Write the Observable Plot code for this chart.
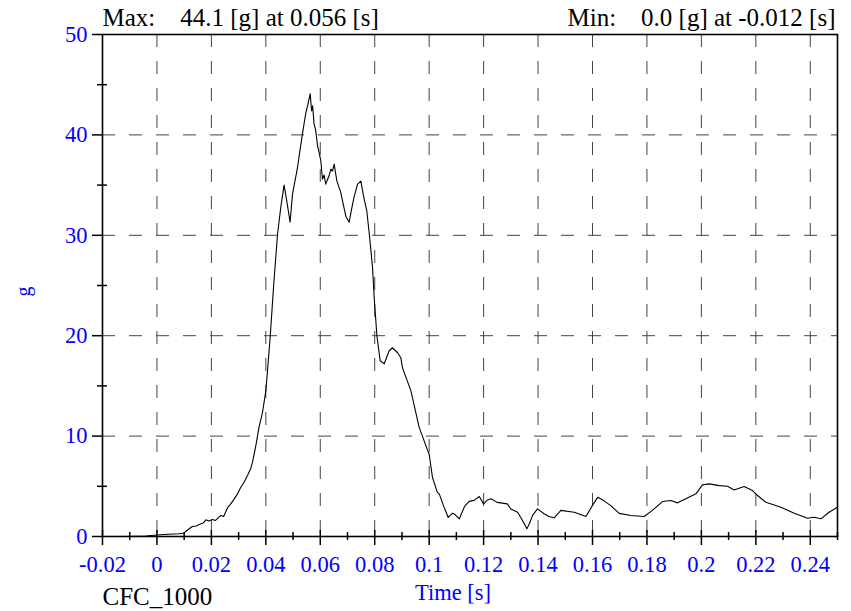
<!DOCTYPE html>
<html>
<head>
<meta charset="utf-8">
<script src="https://cdn.jsdelivr.net/npm/d3@7"></script>
<script src="https://cdn.jsdelivr.net/npm/@observablehq/plot@0.6"></script>
<style>
  html, body { margin: 0; padding: 0; background: #fff; }
  #chart { width: 851px; height: 611px; }
</style>
</head>
<body>
<div id="chart"></div>
<script>
// ---- data ----
const time = [
  -0.020, -0.015, -0.012, -0.008, -0.004, 0.000, 0.004, 0.008, 0.0098, 0.011,
  0.013, 0.0145, 0.0155, 0.017, 0.018, 0.019, 0.0204, 0.0215, 0.0225, 0.0235,
  0.0245, 0.026, 0.027, 0.0284, 0.0295, 0.0308, 0.032, 0.0333, 0.0345, 0.0351,
  0.0363, 0.0375, 0.0388, 0.040, 0.0415, 0.043, 0.0443, 0.0455, 0.0467, 0.0477,
  0.0489, 0.0498, 0.0516, 0.0535, 0.0547, 0.0555, 0.0563, 0.0568, 0.0572, 0.0577,
  0.0583, 0.059, 0.0596, 0.0602, 0.0608, 0.0614, 0.062, 0.0626, 0.0632, 0.0639,
  0.0645, 0.0651, 0.0661, 0.0675, 0.0685, 0.0694, 0.0706, 0.0715, 0.0724, 0.0737,
  0.0749, 0.0759, 0.0771, 0.0779, 0.0792, 0.0798, 0.0808, 0.0820, 0.0835, 0.0853,
  0.0865, 0.0884, 0.0896, 0.0902, 0.0933, 0.0963, 0.0994, 0.1000, 0.1012, 0.1030,
  0.1037, 0.1055, 0.1070, 0.1085, 0.1092, 0.1111, 0.1130, 0.1147, 0.1165, 0.1184,
  0.1200, 0.1212, 0.1227, 0.1250, 0.1287, 0.1300, 0.1325, 0.1343, 0.1359, 0.1370,
  0.1380, 0.1398, 0.1422, 0.1440, 0.1459, 0.1484, 0.1533, 0.1576, 0.1600, 0.1619,
  0.1640, 0.1667, 0.1698, 0.1741, 0.1790, 0.1820, 0.1857, 0.1888, 0.1912, 0.1943,
  0.1980, 0.2004, 0.2029, 0.2065, 0.2096, 0.2120, 0.2157, 0.2188, 0.2206, 0.2237,
  0.2292, 0.2341, 0.2390, 0.2414, 0.2439, 0.2469, 0.2500
];
const accel = [
  0.0, 0.0, 0.0, 0.02, 0.05, 0.15, 0.22, 0.28, 0.33, 0.6,
  1.0, 1.05, 1.2, 1.35, 1.66, 1.55, 1.7, 1.6, 1.85, 2.1,
  2.0, 2.9, 3.2, 3.75, 4.2, 4.9, 5.4, 6.1, 6.8, 7.4,
  9.0, 10.9, 12.4, 14.5, 19.5, 25.5, 30.1, 32.8, 35.0, 33.4,
  31.3, 34.1, 36.7, 40.2, 42.2, 43.1, 44.1, 42.4, 42.9, 41.1,
  40.5, 38.9, 38.2, 37.4, 35.6, 36.0, 35.1, 35.5, 35.9, 36.6,
  36.4, 37.1, 35.4, 34.3, 33.0, 31.9, 31.3, 32.6, 33.8, 35.1,
  35.4, 33.9, 32.4, 30.4, 26.8, 23.8, 20.0, 17.5, 17.2, 18.5,
  18.8, 18.3, 17.8, 16.8, 14.5, 10.9, 8.6, 8.2, 5.9, 4.4,
  4.25, 2.9, 1.9, 2.3, 2.26, 1.76, 3.0, 3.5, 3.6, 3.98,
  3.25, 3.6, 3.75, 3.4, 3.25, 2.75, 2.42, 1.6, 0.76, 1.4,
  2.1, 2.75, 2.26, 2.0, 1.86, 2.6, 2.42, 2.0, 3.1, 3.9,
  3.6, 3.08, 2.3, 2.09, 1.99, 2.6, 3.48, 3.58, 3.35, 3.75,
  4.25, 5.14, 5.24, 5.07, 5.0, 4.64, 4.97, 4.58, 4.08, 3.41,
  2.92, 2.32, 1.82, 1.92, 1.76, 2.42, 2.92
];

const xTicks = [-0.02, 0, 0.02, 0.04, 0.06, 0.08, 0.1, 0.12, 0.14, 0.16, 0.18, 0.2, 0.22, 0.24];
const xTickLabels = ["-0.02", "0", "0.02", "0.04", "0.06", "0.08", "0.1", "0.12", "0.14", "0.16", "0.18", "0.2", "0.22", "0.24"];
const xMinorTicks = [-0.01, 0.01, 0.03, 0.05, 0.07, 0.09, 0.11, 0.13, 0.15, 0.17, 0.19, 0.21, 0.23, 0.25];
const xGrid = [0, 0.02, 0.04, 0.06, 0.08, 0.1, 0.12, 0.14, 0.16, 0.18, 0.2, 0.22, 0.24];
const yTicks = [0, 10, 20, 30, 40, 50];
const yMinorTicks = [5, 15, 25, 35, 45];
const yGrid = [10, 20, 30, 40];

const maxLabel = ["Max:\u00a0\u00a0\u00a0\u00a044.1 [g] at 0.056 [s]"];
const minLabel = ["Min:\u00a0\u00a0\u00a0\u00a00.0 [g] at -0.012 [s]"];
const filterLabel = ["CFC_1000"];
const xTitle = ["Time [s]"];
const yTitle = ["g"];

const data = time.map((t, i) => ({t, g: accel[i]}));
const serif = "'Liberation Serif', 'Times New Roman', serif";
const blue = "#0000ff";

const chart = Plot.plot({
  width: 851,
  height: 611,
  marginLeft: 102,
  marginRight: 14,
  marginTop: 34,
  marginBottom: 75,
  style: {fontFamily: serif, background: "white", color: "black"},
  x: {domain: [-0.02, 0.25], axis: null},
  y: {domain: [0, 50], axis: null},
  marks: [
    Plot.gridX(xGrid, {stroke: "#444", strokeOpacity: 1, strokeWidth: 1, strokeDasharray: "13,14"}),
    Plot.gridY(yGrid, {stroke: "#444", strokeOpacity: 1, strokeWidth: 1, strokeDasharray: "13,14"}),
    Plot.frame({stroke: "black", strokeWidth: 1.6}),
    Plot.line(data, {x: "t", y: "g", stroke: "black", strokeWidth: 1.1}),
    // x axis ticks
    Plot.axisX(xTicks, {tickSize: 15, dy: -6, fill: "none", stroke: "black", strokeWidth: 1.5}),
    Plot.axisX(xMinorTicks, {tickSize: 8, dy: -4, fill: "none", stroke: "black", strokeWidth: 1.5}),
    Plot.axisX(xTicks, {tickSize: 0, tickPadding: 20, fill: blue, fontSize: 22.5, fontFamily: serif,
      tickFormat: (d, i) => xTickLabels[i], label: null}),
    // y axis ticks
    Plot.axisY(yTicks, {tickSize: 10, fill: "none", stroke: "black", strokeWidth: 1.5}),
    Plot.axisY(yMinorTicks, {tickSize: 10, dx: 5, fill: "none", stroke: "black", strokeWidth: 1.5}),
    Plot.axisY(yTicks, {tickSize: 0, tickPadding: 15, fill: blue, fontSize: 22.5, fontFamily: serif,
      tickFormat: d => String(d), label: null}),
    // texts
    Plot.text(maxLabel, {frameAnchor: "top-left", textAnchor: "start", lineAnchor: "bottom", dy: -9,
      fontSize: 25, fontFamily: serif, fill: "black"}),
    Plot.text(minLabel, {frameAnchor: "top-right", textAnchor: "end", lineAnchor: "bottom", dx: -2, dy: -9,
      fontSize: 25, fontFamily: serif, fill: "black"}),
    Plot.text(filterLabel, {frameAnchor: "bottom-left", textAnchor: "start", lineAnchor: "bottom", dy: 68,
      fontSize: 25, fontFamily: serif, fill: "black"}),
    Plot.text(xTitle, {frameAnchor: "bottom", textAnchor: "middle", lineAnchor: "bottom", dx: -17, dy: 63,
      fontSize: 22.5, fontFamily: serif, fill: blue}),
    Plot.text(yTitle, {frameAnchor: "left", textAnchor: "middle", lineAnchor: "middle", rotate: -90, dx: -79, dy: 6,
      fontSize: 20, fontFamily: serif, fill: blue})
  ]
});
document.getElementById("chart").appendChild(chart);
</script>
</body>
</html>
